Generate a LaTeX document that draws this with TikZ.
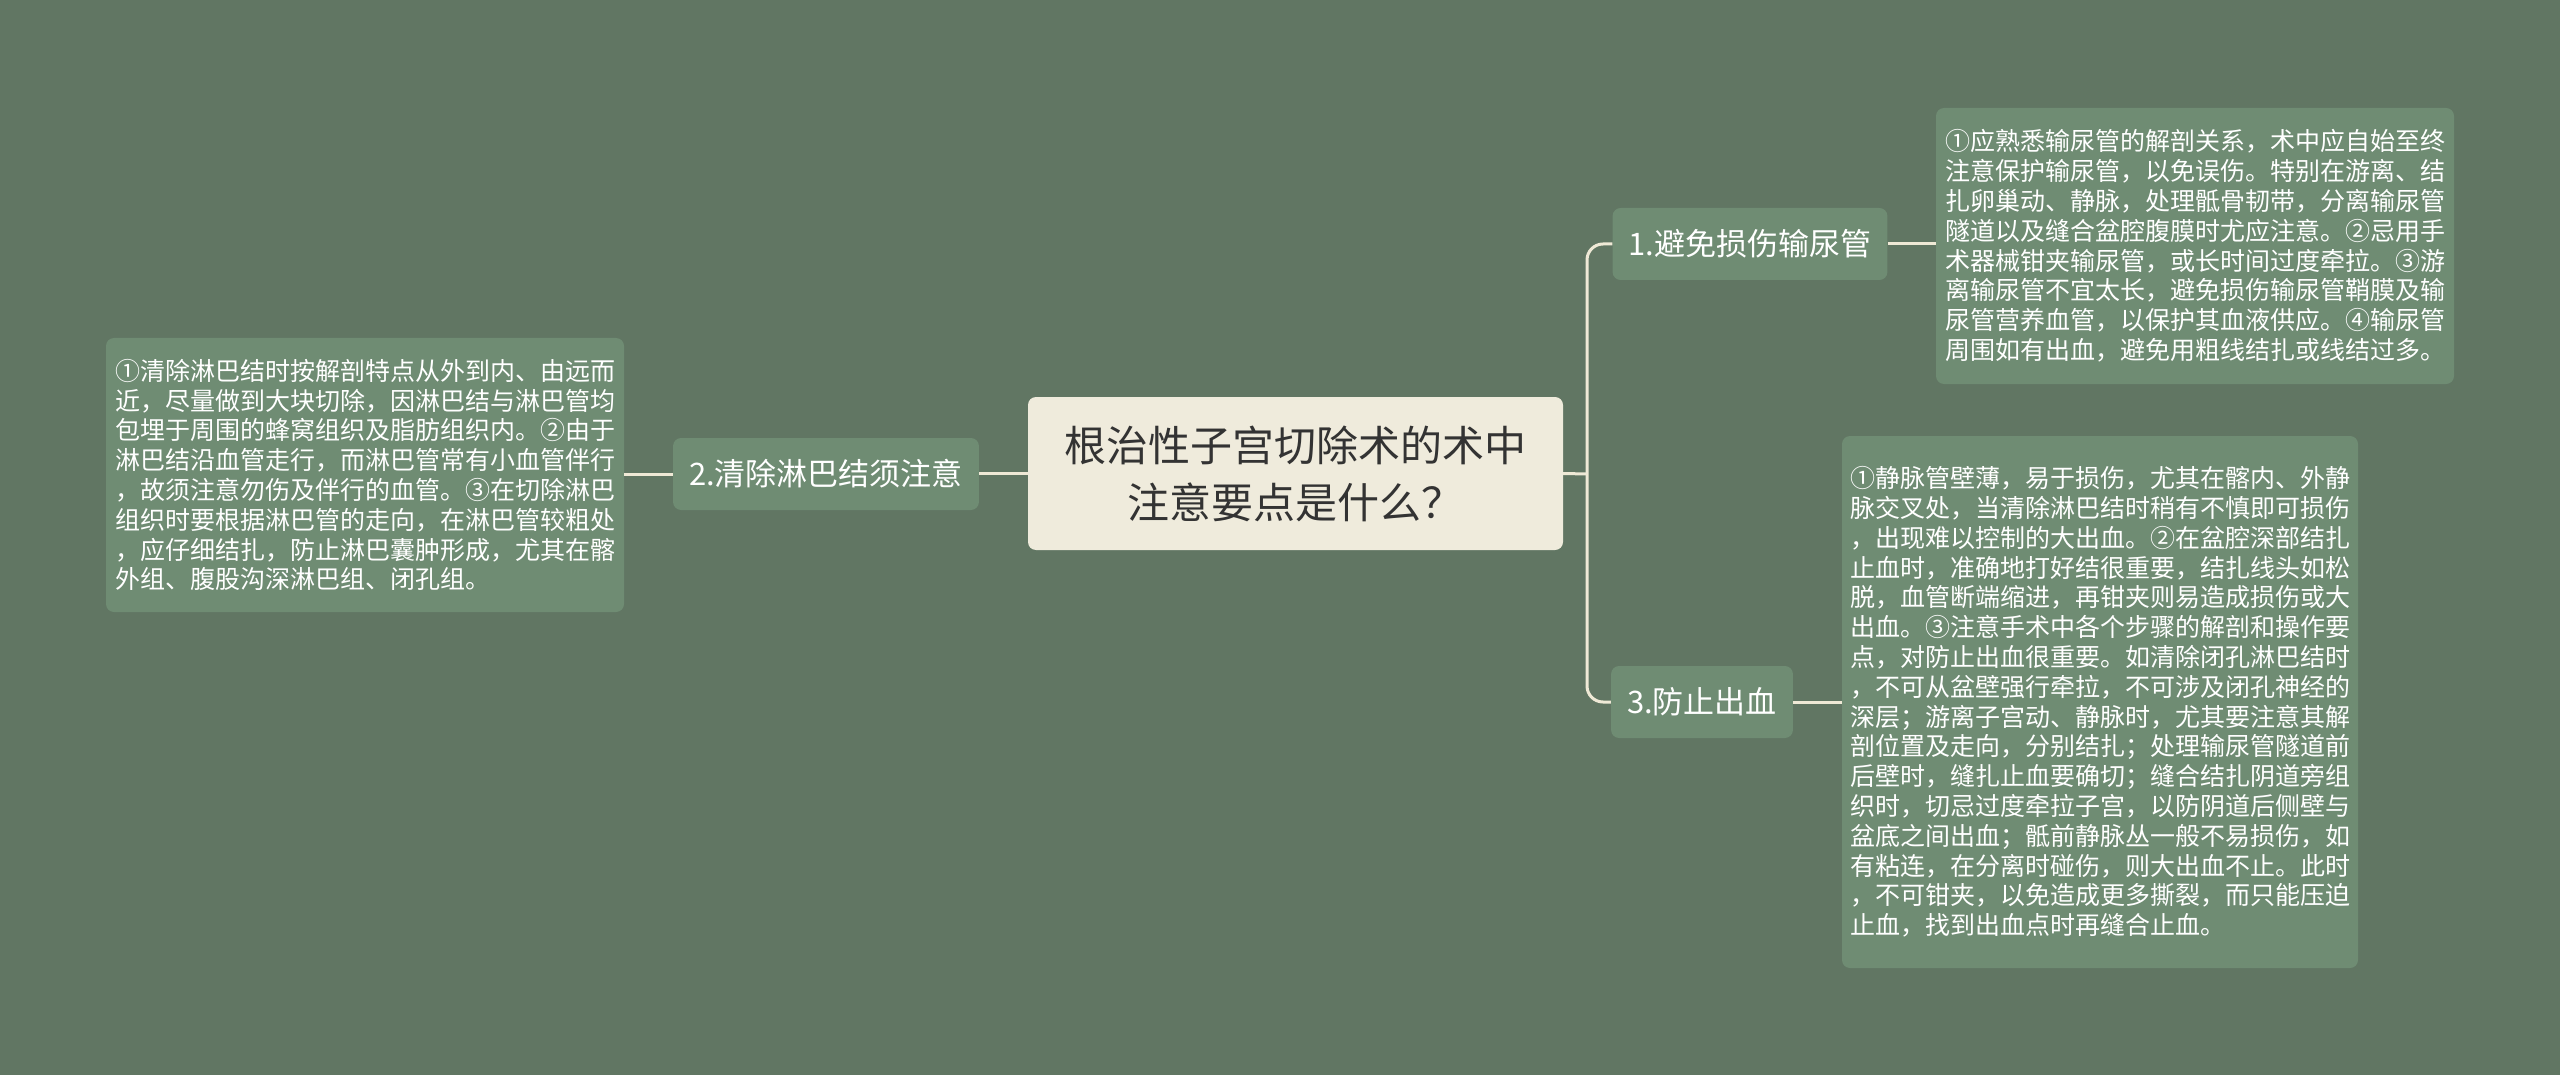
\documentclass[tikz,border=0pt]{standalone}
\usepackage{fontspec}
\setmainfont{Noto Sans CJK SC}
\definecolor{bgc}{HTML}{617663}
\definecolor{boxc}{HTML}{6F8C73}
\definecolor{cent}{HTML}{EFEBDC}
\definecolor{linec}{HTML}{EFE9D6}
\definecolor{darkt}{HTML}{333333}
\tikzset{
  centbox/.style={fill=cent, rounded corners=8pt, inner sep=0pt, align=center, text=darkt,
    font={\fontsize{42pt}{57pt}\selectfont}},
  branch/.style={fill=boxc, rounded corners=8pt, inner xsep=16pt, inner ysep=0pt, text=white,
    minimum height=72pt, font={\fontsize{31pt}{36pt}\selectfont}},
  leaf/.style={fill=boxc, rounded corners=8pt, inner sep=0pt, align=left, text=white,
    font={\fontsize{25pt}{29.8pt}\selectfont}},
  conn/.style={draw=linec, line width=3pt, rounded corners=16pt},
}
\begin{document}
\begin{tikzpicture}[x=1pt,y=-1pt]
\useasboundingbox (0,0) rectangle (2560,1075);
\fill[bgc] (0,0) rectangle (2560,1075);

\node[centbox, minimum width=535pt, minimum height=153pt] (c) at (1295.5,473.5)
  {根治性子宫切除术的术中\\注意要点是什么？};

\node[branch] (n1) at (1750,244) {1.避免损伤输尿管};
\node[branch] (n2) at (826,474) {2.清除淋巴结须注意};
\node[branch] (n3) at (1702,702) {3.防止出血};

\node[leaf, minimum width=518pt, minimum height=276pt] (l1) at (2195,246)
  {①应熟悉输尿管的解剖关系，术中应自始至终\\
   注意保护输尿管，以免误伤。特别在游离、结\\
   扎卵巢动、静脉，处理骶骨韧带，分离输尿管\\
   隧道以及缝合盆腔腹膜时尤应注意。②忌用手\\
   术器械钳夹输尿管，或长时间过度牵拉。③游\\
   离输尿管不宜太长，避免损伤输尿管鞘膜及输\\
   尿管营养血管，以保护其血液供应。④输尿管\\
   周围如有出血，避免用粗线结扎或线结过多。};

\node[leaf, minimum width=516pt, minimum height=532pt] (l2) at (2100,702)
  {①静脉管壁薄，易于损伤，尤其在髂内、外静\\
   脉交叉处，当清除淋巴结时稍有不慎即可损伤\\
   ，出现难以控制的大出血。②在盆腔深部结扎\\
   止血时，准确地打好结很重要，结扎线头如松\\
   脱，血管断端缩进，再钳夹则易造成损伤或大\\
   出血。③注意手术中各个步骤的解剖和操作要\\
   点，对防止出血很重要。如清除闭孔淋巴结时\\
   ，不可从盆壁强行牵拉，不可涉及闭孔神经的\\
   深层；游离子宫动、静脉时，尤其要注意其解\\
   剖位置及走向，分别结扎；处理输尿管隧道前\\
   后壁时，缝扎止血要确切；缝合结扎阴道旁组\\
   织时，切忌过度牵拉子宫，以防阴道后侧壁与\\
   盆底之间出血；骶前静脉丛一般不易损伤，如\\
   有粘连，在分离时碰伤，则大出血不止。此时\\
   ，不可钳夹，以免造成更多撕裂，而只能压迫\\
   止血，找到出血点时再缝合止血。};

\node[leaf, minimum width=518pt, minimum height=274pt] (l3) at (365,475)
  {①清除淋巴结时按解剖特点从外到内、由远而\\
   近，尽量做到大块切除，因淋巴结与淋巴管均\\
   包埋于周围的蜂窝组织及脂肪组织内。②由于\\
   淋巴结沿血管走行，而淋巴管常有小血管伴行\\
   ，故须注意勿伤及伴行的血管。③在切除淋巴\\
   组织时要根据淋巴管的走向，在淋巴管较粗处\\
   ，应仔细结扎，防止淋巴囊肿形成，尤其在髂\\
   外组、腹股沟深淋巴组、闭孔组。};

\coordinate (j) at (1587,474);
\draw[conn] (c.east) -- (j);
\draw[conn] (n1.west) -| (j) |- (n3.west);
\draw[conn] (n1.east) -- (n1.east -| l1.west);
\draw[conn] (n3.east) -- (n3.east -| l2.west);
\draw[conn] (c.west) -- (c.west -| n2.east);
\draw[conn] (n2.west) -- (n2.west -| l3.east);
\end{tikzpicture}
\end{document}
